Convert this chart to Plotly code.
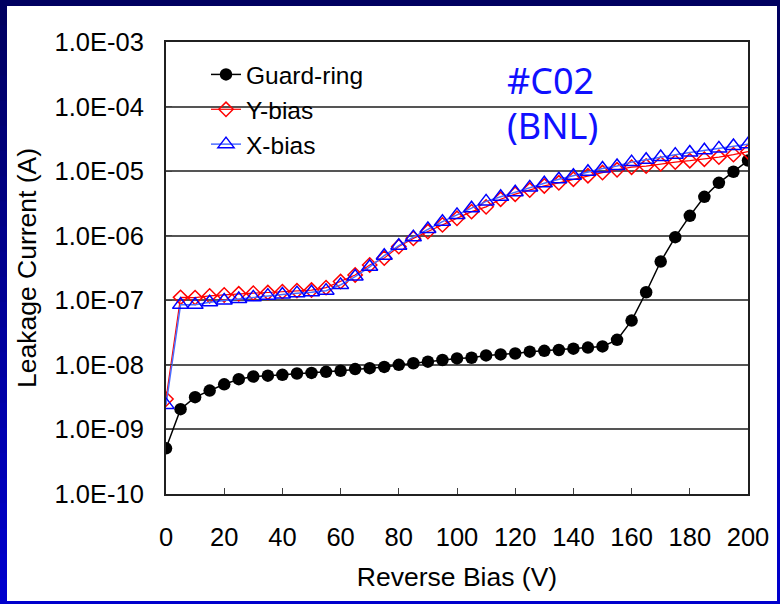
import plotly.graph_objects as go

# ---------------- data ----------------
bias_v = [0, 5, 10, 15, 20, 25, 30, 35, 40, 45, 50, 55, 60, 65, 70, 75, 80, 85, 90, 95,
          100, 105, 110, 115, 120, 125, 130, 135, 140, 145, 150, 155, 160, 165, 170, 175,
          180, 185, 190, 195, 200]

guard_ring = [5.1e-10, 2.06e-9, 3.16e-9, 4.0e-9, 5.0e-9, 6.0e-9, 6.6e-9, 6.8e-9, 7.0e-9,
              7.35e-9, 7.5e-9, 7.8e-9, 8.1e-9, 8.6e-9, 8.9e-9, 9.3e-9, 1.0e-8, 1.06e-8,
              1.12e-8, 1.19e-8, 1.26e-8, 1.29e-8, 1.40e-8, 1.45e-8, 1.5e-8, 1.6e-8,
              1.65e-8, 1.7e-8, 1.78e-8, 1.85e-8, 1.93e-8, 2.44e-8, 4.85e-8, 1.33e-7,
              3.98e-7, 9.5e-7, 2.03e-6, 4.0e-6, 6.6e-6, 9.8e-6, 1.46e-5]

y_bias = [2.95e-9, 1.11e-7, 1.10e-7, 1.17e-7, 1.21e-7, 1.26e-7, 1.29e-7, 1.32e-7, 1.36e-7,
          1.41e-7, 1.44e-7, 1.57e-7, 1.95e-7, 2.47e-7, 3.53e-7, 4.5e-7, 6.8e-7, 9.1e-7,
          1.16e-6, 1.47e-6, 1.86e-6, 2.36e-6, 2.8e-6, 3.67e-6, 4.4e-6, 5.1e-6, 5.9e-6,
          6.6e-6, 7.5e-6, 8.5e-6, 9.5e-6, 1.05e-5, 1.15e-5, 1.2e-5, 1.3e-5, 1.38e-5,
          1.45e-5, 1.53e-5, 1.65e-5, 1.8e-5, 2.0e-5]

x_bias = [2.4e-9, 8.5e-8, 8.5e-8, 9.3e-8, 9.9e-8, 1.05e-7, 1.11e-7, 1.18e-7, 1.23e-7,
          1.29e-7, 1.33e-7, 1.41e-7, 1.73e-7, 2.33e-7, 3.3e-7, 4.9e-7, 7.0e-7, 9.5e-7,
          1.27e-6, 1.65e-6, 2.1e-6, 2.66e-6, 3.4e-6, 4.0e-6, 4.7e-6, 5.6e-6, 6.5e-6,
          7.5e-6, 8.5e-6, 9.8e-6, 1.1e-5, 1.2e-5, 1.38e-5, 1.5e-5, 1.65e-5, 1.8e-5,
          1.94e-5, 2.1e-5, 2.25e-5, 2.45e-5, 2.6e-5]

y_tick_vals = [1e-10, 1e-9, 1e-8, 1e-7, 1e-6, 1e-5, 1e-4, 1e-3]
y_tick_text = ["1.0E-10", "1.0E-09", "1.0E-08", "1.0E-07", "1.0E-06", "1.0E-05",
               "1.0E-04", "1.0E-03"]
x_tick_vals = [0, 20, 40, 60, 80, 100, 120, 140, 160, 180, 200]

# ---------------- layout geometry ----------------
W, H = 780, 604
L, R, T, B = 166, 32, 42, 110
PW, PH = W - L - R, H - T - B


def px_x(p):
    return (p - L) / PW


def px_y(p):
    return 1 - (p - T) / PH


FONT = "Liberation Sans, Arial, sans-serif"
TICK_SIZE = 25.5
TITLE_SIZE = 26.5
LEGEND_SIZE = 24.5

fig = go.Figure()

fig.add_trace(go.Scatter(
    x=bias_v, y=guard_ring, name="Guard-ring", mode="lines+markers",
    line=dict(color="black", width=1.5),
    marker=dict(symbol="circle", size=12.5, color="black"),
))
fig.add_trace(go.Scatter(
    x=bias_v, y=y_bias, name="Y-bias", mode="lines+markers",
    line=dict(color="#ff0000", width=1.2),
    marker=dict(symbol="diamond-open", size=11, color="#ff0000", line=dict(width=1.5)),
))
fig.add_trace(go.Scatter(
    x=bias_v, y=x_bias, name="X-bias", mode="lines+markers",
    line=dict(color="#4a6cff", width=1.5),
    marker=dict(symbol="triangle-up-open", size=14, color="#0000ff", line=dict(width=1.5)),
))

# frame background: vertical gradient navy -> bright blue, then white panel
shapes = []
n_bands = 24
top_c = (0, 0, 96)
bot_c = (0, 0, 205)
for i in range(n_bands):
    t = i / (n_bands - 1)
    c = tuple(int(round(top_c[k] + (bot_c[k] - top_c[k]) * t)) for k in range(3))
    y0p = H * i / n_bands
    y1p = H * (i + 1) / n_bands + 1
    shapes.append(dict(type="rect", xref="paper", yref="paper", layer="below",
                       x0=px_x(0), x1=px_x(W), y0=px_y(y1p), y1=px_y(y0p),
                       line=dict(width=0), fillcolor="rgb(%d,%d,%d)" % c))
shapes.append(dict(type="rect", xref="paper", yref="paper", layer="below",
                   x0=px_x(7), x1=px_x(777), y0=px_y(601), y1=px_y(6),
                   line=dict(width=0), fillcolor="white"))
# white legend backing that hides the gridline behind the legend area
shapes.append(dict(type="rect", xref="paper", yref="paper", layer="between",
                   x0=px_x(185), x1=px_x(388), y0=px_y(158), y1=px_y(56),
                   line=dict(width=0), fillcolor="white"))

fig.update_layout(
    width=W, height=H,
    margin=dict(l=L, r=R, t=T, b=B, autoexpand=False),
    paper_bgcolor="#000080",
    plot_bgcolor="white",
    font=dict(family=FONT, color="black", size=TICK_SIZE),
    shapes=shapes,
    showlegend=True,
    legend=dict(
        x=px_x(206), y=px_y(52), xanchor="left", yanchor="top",
        bgcolor="rgba(255,255,255,0)", borderwidth=0,
        font=dict(family=FONT, size=LEGEND_SIZE, color="black"),
        itemwidth=30, tracegroupgap=0,
    ),
    annotations=[
        dict(text="#C02", xref="paper", yref="paper", x=px_x(505), y=px_y(80),
             xanchor="left", yanchor="middle", showarrow=False,
             font=dict(family="Noto Sans, Open Sans, sans-serif", size=36, color="#1010ff")),
        dict(text="(BNL)", xref="paper", yref="paper", x=px_x(505), y=px_y(125),
             xanchor="left", yanchor="middle", showarrow=False,
             font=dict(family="Noto Sans, Open Sans, sans-serif", size=36, color="#1010ff")),
    ],
)

fig.update_xaxes(
    range=[0, 200], tickvals=x_tick_vals,
    showgrid=False, zeroline=False,
    showline=True, linecolor="#202020", linewidth=2, mirror=True,
    ticks="inside", ticklen=6, tickwidth=1, tickcolor="#404040",
    ticklabelstandoff=19,
    tickfont=dict(family=FONT, size=TICK_SIZE, color="black"),
    title=dict(text="Reverse Bias (V)", standoff=18,
               font=dict(family=FONT, size=TITLE_SIZE, color="black")),
)
fig.update_yaxes(
    type="log", range=[-10, -3], tickvals=y_tick_vals, ticktext=y_tick_text,
    showgrid=True, gridcolor="#555555", gridwidth=1.5,
    zeroline=False,
    showline=True, linecolor="#202020", linewidth=2, mirror=True,
    ticks="inside", ticklen=6, tickwidth=1, tickcolor="#404040",
    ticklabelstandoff=15,
    tickfont=dict(family=FONT, size=TICK_SIZE, color="black"),
    title=dict(text="Leakage Current (A)", standoff=10,
               font=dict(family=FONT, size=TITLE_SIZE, color="black")),
)

fig.write_html(
    "out.html",
    config={"displayModeBar": False},
    post_script="document.body.style.margin='0';document.body.style.overflow='hidden';",
)
